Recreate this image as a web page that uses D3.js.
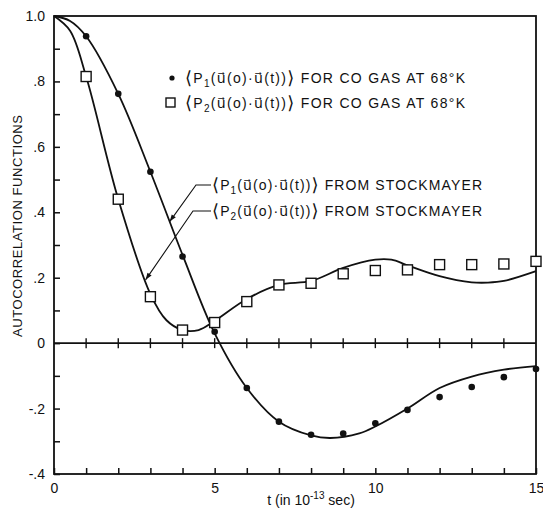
<!DOCTYPE html>
<html>
<head>
<meta charset="utf-8">
<script src="https://cdn.jsdelivr.net/npm/d3@7"></script>
<style>
body { margin: 0; background: #fff; }
text { font-family: "Liberation Sans", "DejaVu Sans", sans-serif; fill: #111; }
</style>
</head>
<body>
<svg id="chart" width="543" height="510"></svg>
<script>
// t in units of 1e-13 sec
var tMeasured = [1, 2, 3, 4, 5, 6, 7, 8, 9, 10, 11, 12, 13, 14, 15];
// <P1(u(0).u(t))> for CO gas at 68 K (dots)
var p1Measured = [0.938, 0.762, 0.524, 0.265, 0.035, -0.137, -0.24, -0.28, -0.276, -0.245, -0.204, -0.165, -0.134, -0.104, -0.079];
// <P2(u(0).u(t))> for CO gas at 68 K (squares)
var p2Measured = [0.815, 0.44, 0.142, 0.04, 0.063, 0.127, 0.178, 0.183, 0.212, 0.222, 0.224, 0.24, 0.24, 0.242, 0.25];

// Stockmayer curves
var p1CurveT = [0, 0.5, 1, 2, 3, 4, 5, 6, 7, 8, 8.6, 9.5, 10, 11, 12, 13, 14, 15];
var p1CurveV = [1, 0.985, 0.938, 0.762, 0.524, 0.27, 0.03, -0.137, -0.24, -0.282, -0.29, -0.276, -0.255, -0.2, -0.137, -0.102, -0.081, -0.07];
var p2CurveT = [0, 0.5, 1, 2, 3, 3.5, 4, 4.5, 5, 6, 7, 8, 9, 10, 10.5, 11, 12, 13, 13.5, 14, 15];
var p2CurveV = [1, 0.955, 0.815, 0.44, 0.15, 0.07, 0.04, 0.04, 0.068, 0.135, 0.178, 0.19, 0.23, 0.255, 0.255, 0.238, 0.205, 0.186, 0.185, 0.19, 0.22];

var yTickValues = [-0.4, -0.3, -0.2, -0.1, 0, 0.1, 0.2, 0.3, 0.4, 0.5, 0.6, 0.7, 0.8, 0.9, 1.0];
var yMajorValues = [-0.4, -0.2, 0, 0.2, 0.4, 0.6, 0.8, 1.0];
var yMajorLabels = ["-.4", "-.2", "0", ".2", ".4", ".6", ".8", "1.0"];
var xTickValues = [0, 1, 2, 3, 4, 5, 6, 7, 8, 9, 10, 11, 12, 13, 14, 15];
var xLabelValues = [0, 5, 10, 15];

var svg = d3.select("#chart");
svg.append("rect").attr("width", 543).attr("height", 510).attr("fill", "#fff");

var x = d3.scaleLinear().domain([0, 15]).range([54, 536]);
var y = d3.scaleLinear().domain([-0.4, 1.0]).range([474, 16]);

//frame
svg.append("rect")
	.attr("x", x(0)).attr("y", y(1))
	.attr("width", x(15) - x(0)).attr("height", y(-0.4) - y(1))
	.attr("fill", "none").attr("stroke", "#111").attr("stroke-width", 1.8);

//left axis, ticks inside
var yAxis = d3.axisLeft(y)
	.tickValues(yTickValues)
	.tickSizeInner(-6).tickSizeOuter(0).tickPadding(9)
	.tickFormat(function(d) {
		var i = yMajorValues.findIndex(function(v) { return Math.abs(v - d) < 1e-6; });
		return i >= 0 ? yMajorLabels[i] : "";
	});
var gy = svg.append("g").attr("transform", "translate(" + x(0) + ",0)").call(yAxis);
gy.select(".domain").remove();
gy.selectAll("line").attr("stroke", "#111").attr("stroke-width", 1.5);
gy.selectAll("text").attr("font-size", 14).attr("font-family", "Liberation Sans, sans-serif").attr("fill", "#111");

//bottom axis, ticks inside
var xAxis = d3.axisBottom(x)
	.tickValues(xTickValues)
	.tickSizeInner(-6).tickSizeOuter(0).tickPadding(9)
	.tickFormat(function(d) { return xLabelValues.indexOf(d) >= 0 ? d : ""; });
var gx = svg.append("g").attr("transform", "translate(0," + y(-0.4) + ")").call(xAxis);
gx.select(".domain").remove();
gx.selectAll("line").attr("stroke", "#111").attr("stroke-width", 1.5);
gx.selectAll("text").attr("font-size", 14).attr("font-family", "Liberation Sans, sans-serif").attr("fill", "#111");

//zero line with crossing ticks
svg.append("line")
	.attr("x1", x(0)).attr("x2", x(15)).attr("y1", y(0)).attr("y2", y(0))
	.attr("stroke", "#111").attr("stroke-width", 1.8);
svg.append("g").selectAll("line")
	.data(xTickValues.filter(function(d) { return d > 0 && d < 15; }))
	.enter().append("line")
	.attr("x1", function(d) { return x(d); }).attr("x2", function(d) { return x(d); })
	.attr("y1", y(0) - 5).attr("y2", y(0) + 5)
	.attr("stroke", "#111").attr("stroke-width", 1.4);

//curves
var line = d3.line()
	.x(function(d) { return x(d[0]); })
	.y(function(d) { return y(d[1]); })
	.curve(d3.curveCatmullRom.alpha(0.5));
svg.append("path").datum(d3.zip(p1CurveT, p1CurveV)).attr("d", line)
	.attr("fill", "none").attr("stroke", "#111").attr("stroke-width", 1.8);
svg.append("path").datum(d3.zip(p2CurveT, p2CurveV)).attr("d", line)
	.attr("fill", "none").attr("stroke", "#111").attr("stroke-width", 1.8);

//measured points
svg.append("g").selectAll("circle")
	.data(d3.zip(tMeasured, p1Measured))
	.enter().append("circle")
	.attr("cx", function(d) { return x(d[0]); })
	.attr("cy", function(d) { return y(d[1]); })
	.attr("r", 3.3).attr("fill", "#111");
svg.append("g").selectAll("rect")
	.data(d3.zip(tMeasured, p2Measured))
	.enter().append("rect")
	.attr("x", function(d) { return x(d[0]) - 5; })
	.attr("y", function(d) { return y(d[1]) - 5; })
	.attr("width", 10).attr("height", 10)
	.attr("fill", "#fff").attr("stroke", "#111").attr("stroke-width", 1.4);

//label with subscript, stretched to the width seen in the figure
function notation(px, py, sub, tail, width) {
	var t = svg.append("text").attr("x", px).attr("y", py)
		.attr("font-size", 14)
		.attr("textLength", width).attr("lengthAdjust", "spacing");
	t.append("tspan").attr("font-size", 18).attr("dy", 1).text("\u27E8");
	t.append("tspan").attr("dy", -1).text("P");
	t.append("tspan").attr("font-size", 10).attr("dy", 4).text(sub);
	t.append("tspan").attr("dy", -4).text("(u\u20D7(o)\u00B7u\u20D7(t))");
	t.append("tspan").attr("font-size", 18).attr("dy", 1).text("\u27E9");
	t.append("tspan").attr("dy", -1).text(" " + tail);
	return t;
}

//legend
svg.append("circle").attr("cx", 172).attr("cy", 78).attr("r", 2.6).attr("fill", "#111");
notation(185, 83, "1", "FOR CO GAS AT 68\u00B0K", 280);
svg.append("rect").attr("x", 166).attr("y", 98).attr("width", 9).attr("height", 9)
	.attr("fill", "#fff").attr("stroke", "#111").attr("stroke-width", 1.4);
notation(185, 108, "2", "FOR CO GAS AT 68\u00B0K", 280);

notation(212, 190, "1", "FROM STOCKMAYER", 270);
notation(212, 216, "2", "FROM STOCKMAYER", 270);

//leader arrows to the curves
var leaders = [
	{ from: [211, 185], knee: [196, 185], tT: 3.6, curveT: p1CurveT, curveV: p1CurveV },
	{ from: [211, 211], knee: [193, 211], tT: 2.85, curveT: p2CurveT, curveV: p2CurveV }
];
leaders.forEach(function(L) {
	var yv = d3.scaleLinear().domain(L.curveT).range(L.curveV)(L.tT);
	var tip = [x(L.tT), y(yv)];
	svg.append("polyline")
		.attr("points", [L.from, L.knee, tip].map(function(p) { return p.join(","); }).join(" "))
		.attr("fill", "none").attr("stroke", "#111").attr("stroke-width", 1.1);
	var ang = Math.atan2(tip[1] - L.knee[1], tip[0] - L.knee[0]);
	var len = 7, w = 2.5;
	var bx = tip[0] - len * Math.cos(ang), by = tip[1] - len * Math.sin(ang);
	svg.append("polygon")
		.attr("points", [tip,
			[bx + w * Math.sin(ang), by - w * Math.cos(ang)],
			[bx - w * Math.sin(ang), by + w * Math.cos(ang)]].map(function(p) { return p.join(","); }).join(" "))
		.attr("fill", "#111");
});

//axis titles
svg.append("text")
	.attr("transform", "translate(22,226) rotate(-90)")
	.attr("text-anchor", "middle").attr("font-size", 13)
	.attr("textLength", 222).attr("lengthAdjust", "spacing")
	.text("AUTOCORRELATION FUNCTIONS");

var xt = svg.append("text").attr("x", 311).attr("y", 505)
	.attr("text-anchor", "middle").attr("font-size", 14);
xt.append("tspan").text("t (in 10");
xt.append("tspan").attr("font-size", 10).attr("dy", -6).text("-13");
xt.append("tspan").attr("dy", 6).text(" sec)");
</script>
</body>
</html>
